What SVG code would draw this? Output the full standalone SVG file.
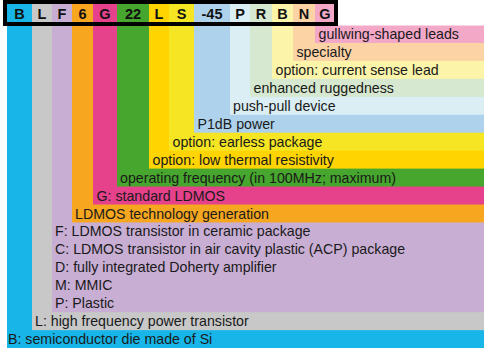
<svg xmlns="http://www.w3.org/2000/svg" width="484" height="348" viewBox="0 0 484 348">
<style>
.h{font-family:"Liberation Sans",Arial,sans-serif;font-size:14.5px;font-weight:bold;fill:#111;text-anchor:middle}
.t{font-family:"Liberation Sans",Arial,sans-serif;font-size:14.2px;fill:#1a1a1a}
</style>
<rect width="484" height="348" fill="#fff"/>
<g id="B1"><rect x="7" y="0" width="477" height="348" fill="#17b5e8"/><text class="h" x="19.5" y="19">B</text><text class="t" x="8" y="344.15">B: semiconductor die made of Si</text></g>
<g id="L1"><rect x="32" y="0" width="452" height="330.15" fill="#c8c8c8"/><text class="h" x="42" y="19">L</text><text class="t" x="35" y="326.2">L: high frequency power transistor</text></g>
<g id="F"><rect x="52" y="0" width="432" height="312.2" fill="#c9aed4"/><text class="h" x="62" y="19">F</text>
<text class="t" x="55" y="236.45">F: LDMOS transistor in ceramic package</text>
<text class="t" x="55" y="254.4">C: LDMOS transistor in air cavity plastic (ACP) package</text>
<text class="t" x="55" y="272.35">D: fully integrated Doherty amplifier</text>
<text class="t" x="55" y="290.3">M: MMIC</text>
<text class="t" x="55" y="308.25">P: Plastic</text></g>
<g id="N6"><rect x="72" y="0" width="412" height="222.45" fill="#f6a61f"/><text class="h" x="82.5" y="19">6</text><text class="t" x="75" y="218.5">LDMOS technology generation</text></g>
<g id="G1"><rect x="93" y="0" width="391" height="204.5" fill="#e6418b"/><text class="h" x="105" y="19">G</text><text class="t" x="96.5" y="200.55">G: standard LDMOS</text></g>
<g id="N22"><rect x="117" y="0" width="367" height="186.55" fill="#46a62d"/><text class="h" x="133" y="19">22</text><text class="t" x="120" y="182.6">operating frequency (in 100MHz; maximum)</text></g>
<g id="L2"><rect x="149" y="0" width="335" height="168.6" fill="#ffd400"/><text class="h" x="159" y="19">L</text><text class="t" x="152.5" y="164.65">option: low thermal resistivity</text></g>
<g id="S"><rect x="169" y="0" width="315" height="150.65" fill="#f5e522"/><text class="h" x="181.5" y="19">S</text><text class="t" x="172.5" y="146.7">option: earless package</text></g>
<g id="N45"><rect x="194" y="0" width="290" height="132.7" fill="#aed2ec"/><text class="h" x="212" y="19">-45</text><text class="t" x="197.5" y="128.75">P1dB power</text></g>
<g id="P"><rect x="230" y="0" width="254" height="114.75" fill="#daeef4"/><text class="h" x="240" y="19">P</text><text class="t" x="233" y="110.8">push-pull device</text></g>
<g id="R"><rect x="250" y="0" width="234" height="96.8" fill="#d6e8cf"/><text class="h" x="261" y="19">R</text><text class="t" x="253.5" y="92.85">enhanced ruggedness</text></g>
<g id="B2"><rect x="272" y="0" width="212" height="78.85" fill="#fbf4a9"/><text class="h" x="282.5" y="19">B</text><text class="t" x="275.5" y="74.9">option: current sense lead</text></g>
<g id="N"><rect x="293" y="0" width="191" height="60.9" fill="#fbd3a5"/><text class="h" x="304" y="19">N</text><text class="t" x="296.5" y="56.95">specialty</text></g>
<g id="G2"><rect x="315" y="0" width="169" height="42.95" fill="#f3a8c8"/><text class="h" x="325" y="19">G</text><text class="t" x="318.5" y="39">gullwing-shaped leads</text></g>
<rect x="0" y="0" width="7" height="26" fill="#fff"/>
<rect x="336" y="0" width="148" height="25.5" fill="#fff"/>
<rect x="5" y="2" width="331" height="22" fill="none" stroke="#000" stroke-width="4"/>
</svg>
